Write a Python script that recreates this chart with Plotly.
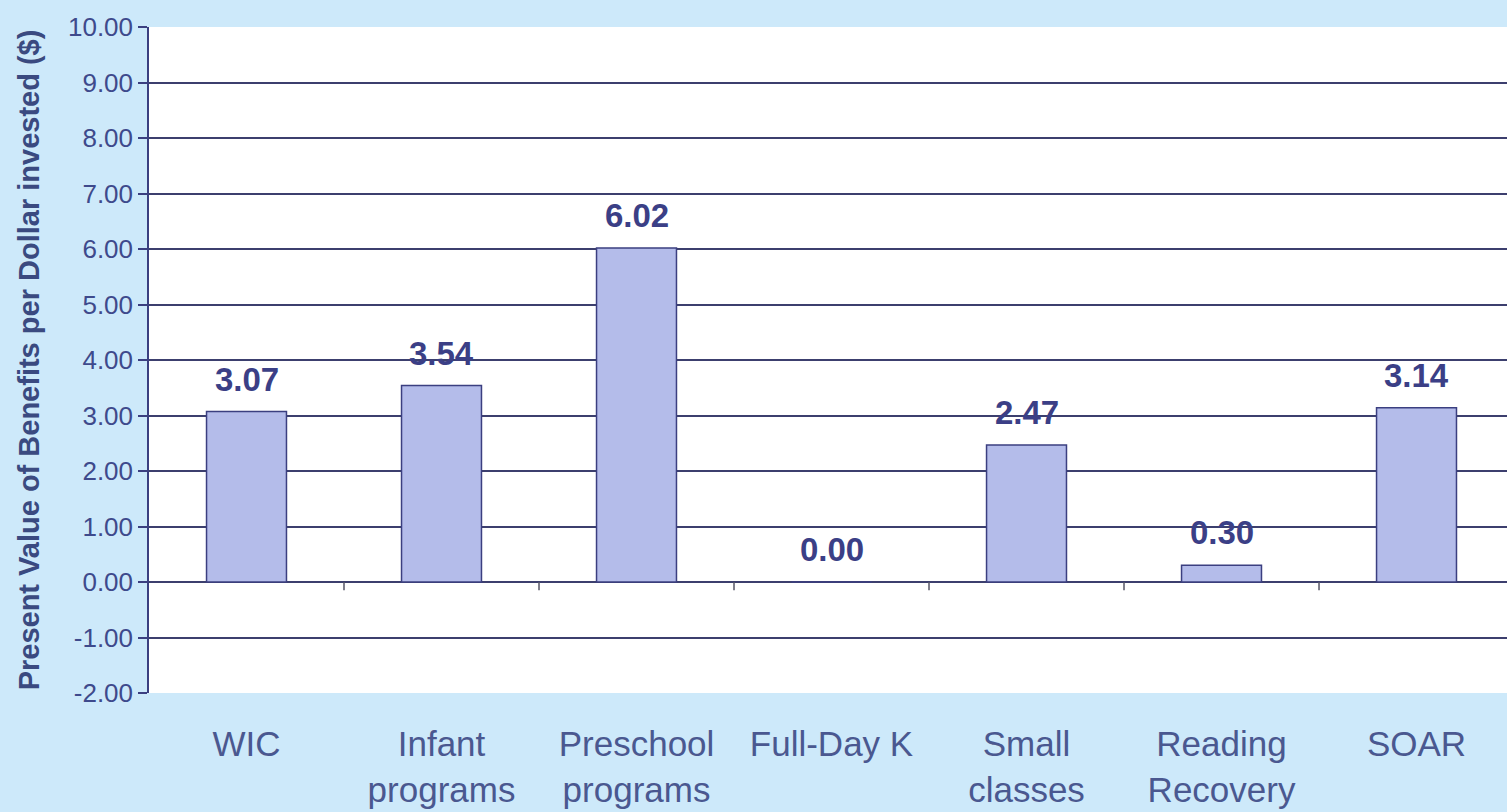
import plotly.graph_objects as go

categories = ["WIC", "Infant<br>programs", "Preschool<br>programs", "Full-Day K",
              "Small<br>classes", "Reading<br>Recovery", "SOAR"]
benefits = [3.07, 3.54, 6.02, 0.00, 2.47, 0.30, 3.14]
y_ticks = [-2, -1, 0, 1, 2, 3, 4, 5, 6, 7, 8, 9, 10]

navy = "#3b3f80"
font_family = "Liberation Sans, Arial, sans-serif"

fig = go.Figure()

fig.add_trace(
    go.Bar(
        x=categories,
        y=benefits,
        width=0.41,
        marker=dict(color="#b4bcea", line=dict(color=navy, width=1.5)),
        hoverinfo="x+y",
    )
)

# value labels above each bar
for cat, val in zip(categories, benefits):
    fig.add_annotation(
        x=cat,
        y=val,
        text="<b>{:.2f}</b>".format(val),
        showarrow=False,
        yanchor="bottom",
        yshift=12,
        font=dict(family=font_family, size=33, color="#3b3f86"),
    )

# small tick marks between categories, hanging below the zero line
for i in range(len(categories) - 1):
    fig.add_shape(
        type="line",
        xref="x", yref="y",
        x0=i + 0.5, x1=i + 0.5,
        y0=0, y1=-0.15,
        line=dict(color="#555566", width=1.5),
    )

fig.update_layout(
    width=1507,
    height=812,
    margin=dict(l=149, r=0, t=27, b=119),
    paper_bgcolor="#cde9fa",
    plot_bgcolor="white",
    showlegend=False,
)

fig.update_yaxes(
    range=[-2, 10],
    tickvals=y_ticks,
    ticktext=["{:.2f}".format(v) for v in y_ticks],
    ticks="outside",
    ticklen=9,
    tickcolor=navy,
    tickwidth=1.5,
    showline=True,
    linecolor=navy,
    linewidth=1.5,
    showgrid=True,
    gridcolor="#3c3f6e",
    gridwidth=1.5,
    zeroline=False,
    tickfont=dict(family=font_family, size=26, color="#3e4a8c"),
    title=dict(
        text="<b>Present Value of Benefits per Dollar invested ($)</b>",
        font=dict(family=font_family, size=29, color="#3a4a80"),
        standoff=20,
    ),
)

fig.update_xaxes(
    range=[-0.5, 6.464],
    showgrid=False,
    showline=False,
    ticks="",
    ticklabelstandoff=27,
    tickfont=dict(family=font_family, size=35, color="#4a5890"),
)

fig.write_html(
    "out.html",
    config={"displayModeBar": False},
    post_script="document.body.style.margin='0';",
)
